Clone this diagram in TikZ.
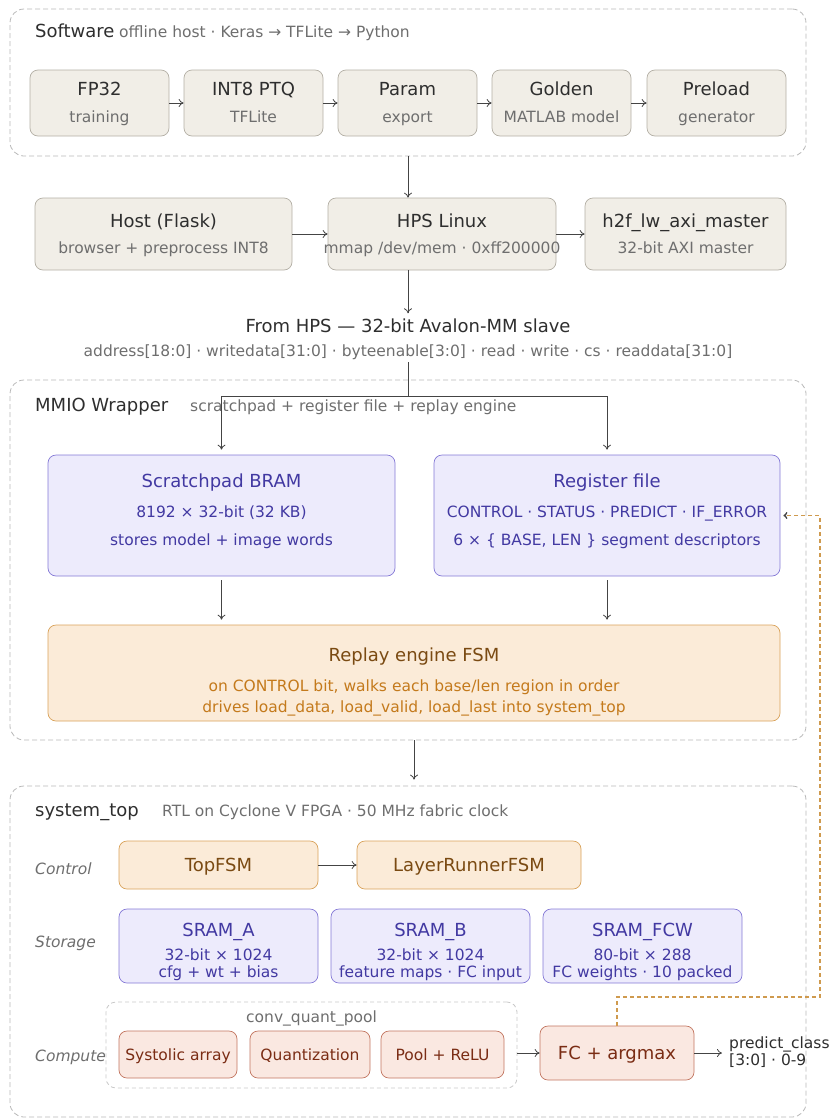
\documentclass[tikz,border=0pt]{standalone}
\usepackage{fontspec}
\setmainfont{DejaVu Sans}
\usetikzlibrary{arrows.meta,calc}
\definecolor{gfill}{HTML}{F1EEE7}
\definecolor{gdraw}{HTML}{B3AFA5}
\definecolor{gtitle}{HTML}{2E2E2E}
\definecolor{gsub}{HTML}{6E6E6E}
\definecolor{pfill}{HTML}{EDEBFC}
\definecolor{pdraw}{HTML}{8479D6}
\definecolor{ptext}{HTML}{4239A2}
\definecolor{ofill}{HTML}{FBEBD8}
\definecolor{odraw}{HTML}{D9A25A}
\definecolor{otitle}{HTML}{7A4A12}
\definecolor{osub}{HTML}{C47A1C}
\definecolor{rfill}{HTML}{FAE8E1}
\definecolor{rdraw}{HTML}{C27560}
\definecolor{rtext}{HTML}{7A2C14}
\definecolor{cdraw}{HTML}{B8B8B8}
\definecolor{cqdraw}{HTML}{C8C8C8}
\definecolor{linkc}{HTML}{CF9A4E}
\definecolor{arr}{HTML}{444444}
\tikzset{
  x=1pt, y=-1pt,
  container/.style={draw=cdraw, dash pattern=on 5pt off 3pt, rounded corners=14pt, line width=0.8pt, inner sep=0pt},
  box/.style={rectangle, rounded corners=8pt, line width=0.7pt, inner sep=0pt},
  gbox/.style={box, fill=gfill, draw=gdraw},
  pbox/.style={box, fill=pfill, draw=pdraw},
  obox/.style={box, fill=ofill, draw=odraw},
  rbox/.style={box, fill=rfill, draw=rdraw},
  big/.style={font=\fontsize{18}{21}\selectfont, inner sep=0pt, text height=15pt, text depth=2pt},
  small/.style={font=\fontsize{15.5}{18}\selectfont, inner sep=0pt, text height=13.5pt, text depth=1pt},
  lane/.style={small, font=\fontsize{15.5}{18}\selectfont\itshape, text=gsub, anchor=west},
  conn/.style={draw=arr, line width=0.8pt, -{To[length=5pt,width=8pt]}},
  plain/.style={draw=arr, line width=0.8pt},
  linkstyle/.style={draw=linkc, line width=1.3pt, dash pattern=on 4pt off 3pt, -{To[length=4pt,width=7pt,color=arr]}},
}
\begin{document}
\begin{tikzpicture}
\useasboundingbox (0,0) rectangle (833,1119);

% ---------------- Software ----------------
\node[container, minimum width=796pt, minimum height=147pt] (sw) at (408,82.5) {};
\node[big, text=gtitle, anchor=west] (swl) at (35,31) {Software};
\node[small, text=gsub, anchor=west] (swd) at (119,31) {offline host · Keras → TFLite → Python};

\node[gbox, minimum width=139pt, minimum height=66pt] (fp32) at (99.5,103) {};
\node[gbox, minimum width=139pt, minimum height=66pt] (int8) at (253.5,103) {};
\node[gbox, minimum width=139pt, minimum height=66pt] (param) at (407.5,103) {};
\node[gbox, minimum width=139pt, minimum height=66pt] (golden) at (561.5,103) {};
\node[gbox, minimum width=139pt, minimum height=66pt] (preload) at (716.5,103) {};
\node[big, text=gtitle] (fp32t) at (99.5,89) {FP32};
\node[small, text=gsub] (fp32s) at (99.5,116) {training};
\node[big, text=gtitle] (int8t) at (253.5,89) {INT8 PTQ};
\node[small, text=gsub] (int8s) at (253.5,116) {TFLite};
\node[big, text=gtitle] (paramt) at (407.5,89) {Param};
\node[small, text=gsub] (params) at (407.5,116) {export};
\node[big, text=gtitle] (goldent) at (561.5,89) {Golden};
\node[small, text=gsub] (goldens) at (561.5,116) {MATLAB model};
\node[big, text=gtitle] (preloadt) at (716.5,89) {Preload};
\node[small, text=gsub] (preloads) at (716.5,116) {generator};
\draw[conn] (fp32) -- (int8);
\draw[conn] (int8) -- (param);
\draw[conn] (param) -- (golden);
\draw[conn] (golden) -- (preload);

% ---------------- Host row ----------------
\node[gbox, minimum width=257pt, minimum height=72pt] (host) at (163.5,234) {};
\node[gbox, minimum width=228pt, minimum height=72pt] (hps) at (442,234) {};
\node[gbox, minimum width=201pt, minimum height=72pt] (axi) at (685.5,234) {};
\node[big, text=gtitle] (hostt) at (163.5,221) {Host (Flask)};
\node[small, text=gsub] (hosts) at (163.5,247) {browser + preprocess INT8};
\node[big, text=gtitle] (hpst) at (442,221) {HPS Linux};
\node[small, text=gsub] (hpss) at (442,247) {mmap /dev/mem · 0xff200000};
\node[big, text=gtitle] (axit) at (685.5,221) {h2f\_lw\_axi\_master};
\node[small, text=gsub] (axis) at (685.5,247) {32-bit AXI master};
\draw[conn] (host) -- (hps);
\draw[conn] (hps) -- (axi);
\draw[conn] (sw.south) -- (sw.south |- hps.north);

% ---------------- Avalon ----------------
\node[big, text=gtitle] (avt) at (408,326) {From HPS — 32-bit Avalon-MM slave};
\node[small, text=gsub] (avs) at (408,350) {address[18:0] · writedata[31:0] · byteenable[3:0] · read · write · cs · readdata[31:0]};
\draw[conn] (avt.north |- hps.south) -- ([yshift=4pt]avt.north);

% ---------------- MMIO Wrapper ----------------
\node[container, minimum width=796pt, minimum height=360pt] (mmio) at (408,560) {};
\node[big, text=gtitle, anchor=west] (mmiol) at (35,405) {MMIO Wrapper};
\node[small, text=gsub, anchor=west] (mmiod) at (190,405) {scratchpad + register file + replay engine};

\node[pbox, minimum width=347pt, minimum height=121pt] (spad) at (221.5,515.5) {};
\node[pbox, minimum width=346pt, minimum height=121pt] (reg) at (607,515.5) {};
\node[big, text=ptext] (spadt) at (221.5,481) {Scratchpad BRAM};
\node[small, text=ptext] (spads1) at (221.5,511) {8192 × 32-bit (32 KB)};
\node[small, text=ptext] (spads2) at (221.5,539) {stores model + image words};
\node[big, text=ptext] (regt) at (607,481) {Register file};
\node[small, text=ptext] (regs1) at (607,511) {CONTROL · STATUS · PREDICT · IF\_ERROR};
\node[small, text=ptext] (regs2) at (607,539) {6 × \{ BASE, LEN \} segment descriptors};

\coordinate (split) at (408,396);
\draw[plain] ([yshift=-5pt]avs.south) -- (split);
\draw[conn] (split) -| ([yshift=5pt]spad.north);
\draw[conn] (split) -| ([yshift=5pt]reg.north);

\node[obox, minimum width=732pt, minimum height=96pt] (replay) at (414,673) {};
\node[big, text=otitle] (replayt) at (414,655) {Replay engine FSM};
\node[small, text=osub] (replays1) at (414,685) {on CONTROL bit, walks each base/len region in order};
\node[small, text=osub] (replays2) at (414,706) {drives load\_data, load\_valid, load\_last into system\_top};
\draw[conn] ([yshift=-4pt]spad.south) -- ([yshift=5pt]spad.south |- replay.north);
\draw[conn] ([yshift=-4pt]reg.south) -- ([yshift=5pt]reg.south |- replay.north);

% ---------------- system_top ----------------
\node[container, minimum width=796pt, minimum height=331pt] (st) at (408,951.5) {};
\draw[conn] (replay.south |- mmio.south) -- ([yshift=6pt]replay.south |- st.north);
\node[big, text=gtitle, anchor=west] (stl) at (35,810) {system\_top};
\node[small, text=gsub, anchor=west] (std) at (162,810) {RTL on Cyclone V FPGA · 50 MHz fabric clock};

\node[lane] (lctl) at (35,868) {Control};
\node[lane] (lsto) at (35,941) {Storage};
\node[lane] (lcmp) at (35,1055) {Compute};

\node[obox, minimum width=199pt, minimum height=48pt] (topfsm) at (218.5,865) {};
\node[big, text=otitle] (topfsmt) at (218.5,865) {TopFSM};
\node[obox, minimum width=224pt, minimum height=48pt] (lrfsm) at (469,865) {};
\node[big, text=otitle] (lrfsmt) at (469,865) {LayerRunnerFSM};
\draw[conn] (topfsm) -- (lrfsm);

\node[pbox, minimum width=199pt, minimum height=74pt] (srama) at (218.5,946) {};
\node[pbox, minimum width=199pt, minimum height=74pt] (sramb) at (430.5,946) {};
\node[pbox, minimum width=199pt, minimum height=74pt] (sramf) at (642.5,946) {};
\node[big, text=ptext] (sramat) at (218.5,930) {SRAM\_A};
\node[small, text=ptext] (sramas1) at (218.5,954) {32-bit × 1024};
\node[small, text=ptext] (sramas2) at (218.5,971) {cfg + wt + bias};
\node[big, text=ptext] (srambt) at (430.5,930) {SRAM\_B};
\node[small, text=ptext] (srambs1) at (430.5,954) {32-bit × 1024};
\node[small, text=ptext] (srambs2) at (430.5,971) {feature maps · FC input};
\node[big, text=ptext] (sramft) at (642.5,930) {SRAM\_FCW};
\node[small, text=ptext] (sramfs1) at (642.5,954) {80-bit × 288};
\node[small, text=ptext] (sramfs2) at (642.5,971) {FC weights · 10 packed};

\node[draw=cqdraw, dash pattern=on 4pt off 3pt, rounded corners=10pt, line width=0.8pt, minimum width=411pt, minimum height=86pt, inner sep=0pt] (cqp) at (311.5,1045) {};
\node[small, text=gsub] (cqpl) at (311.5,1016) {conv\_quant\_pool};
\node[rbox, minimum width=118pt, minimum height=47pt] (sys) at (178,1054.5) {};
\node[small, text=rtext] (syst) at (178,1054.5) {Systolic array};
\node[rbox, minimum width=120pt, minimum height=47pt] (quant) at (310,1054.5) {};
\node[small, text=rtext] (quantt) at (310,1054.5) {Quantization};
\node[rbox, minimum width=123pt, minimum height=47pt] (pool) at (442.5,1054.5) {};
\node[small, text=rtext] (poolt) at (442.5,1054.5) {Pool + ReLU};

\node[rbox, minimum width=154pt, minimum height=54pt] (fc) at (617,1053) {};
\node[big, text=rtext] (fct) at (617,1053) {FC + argmax};
\draw[conn] (cqp.east |- fc.west) -- (fc.west);

\node[font=\fontsize{15.5}{17}\selectfont, text=gtitle, align=left, anchor=west, inner sep=0pt] (pc) at (729,1052) {predict\_class\\{}[3:0] · 0-9};
\draw[conn] (fc.east) -- ([xshift=-7pt]fc.east -| pc.west);

\coordinate (lk) at (820,997);
\draw[linkstyle] (fc.north) |- (lk) -- (lk |- reg.east) -- ([xshift=3pt]reg.east);
\end{tikzpicture}
\end{document}
